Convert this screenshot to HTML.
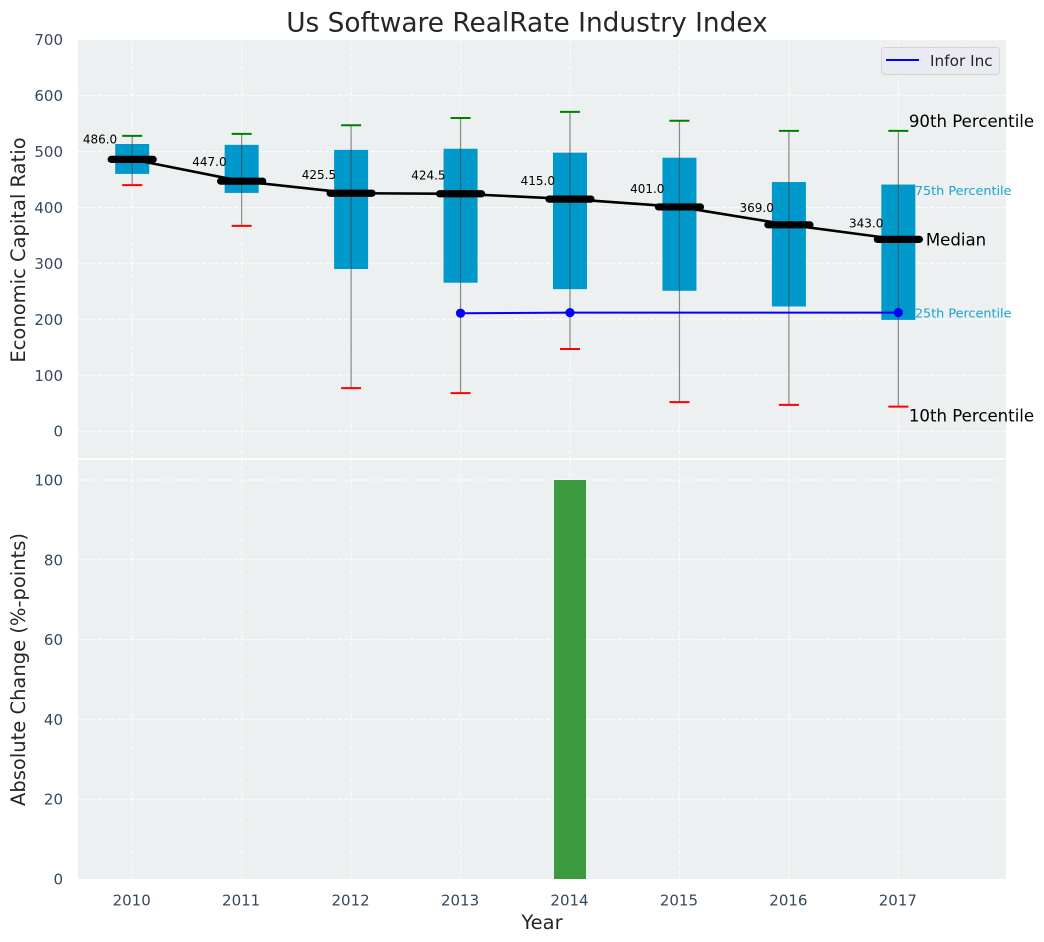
<!DOCTYPE html>
<html lang="en">
<head>
<meta charset="utf-8">
<title>Us Software RealRate Industry Index</title>
<style>
html,body{margin:0;padding:0;background:#fff;}
svg{display:block;font-family:"DejaVu Sans","Liberation Sans",sans-serif;}
</style>
</head>
<body>
<svg id="chart" width="1044" height="942" viewBox="0 0 1044 942" xmlns="http://www.w3.org/2000/svg">
  <rect x="78" y="40" width="928" height="418" fill="#ecf0f1"/>
  <rect x="78" y="459.7" width="928" height="419.3" fill="#ecf0f1"/>
  <g id="grid"></g>
  <g id="bars"></g>
  <g id="boxes"></g>
  <g id="medians"></g>
  <g id="company"></g>
  <g id="ticks" font-size="15" fill="#34495e"></g>
  <g id="values" font-size="12" fill="#000"></g>

  <text x="527" y="31.5" text-anchor="middle" font-size="26.4" fill="#262626">Us Software RealRate Industry Index</text>
  <text transform="translate(25,250) rotate(-90)" text-anchor="middle" font-size="19.5" fill="#262626">Economic Capital Ratio</text>
  <text transform="translate(25,669.5) rotate(-90)" text-anchor="middle" font-size="19.5" fill="#262626">Absolute Change (%-points)</text>
  <text x="542" y="929" text-anchor="middle" font-size="19.5" fill="#262626">Year</text>

  <text id="ann-p90" font-size="16.6" fill="#000">90th Percentile</text>
  <text id="ann-p75" font-size="12.8" fill="#1ba3d1">75th Percentile</text>
  <text id="ann-median" font-size="16.6" fill="#000">Median</text>
  <text id="ann-p25" font-size="12.8" fill="#1ba3d1">25th Percentile</text>
  <text id="ann-p10" font-size="16.6" fill="#000">10th Percentile</text>

  <g>
    <rect x="881.5" y="47.5" width="118" height="27" rx="3" fill="#eaeaf2" stroke="#d5d5d8" stroke-width="1"/>
    <line x1="886" y1="60" x2="919" y2="60" stroke="#0000ff" stroke-width="2"/>
    <text x="930" y="66" font-size="15.3" fill="#262626">Infor Inc</text>
  </g>
</svg>
<script>
const years = [2010, 2011, 2012, 2013, 2014, 2015, 2016, 2017];
const p90 = [528, 531.5, 547, 560, 571, 555, 537, 537];
const p75 = [513.5, 512, 503, 505, 498, 489, 445.5, 441];
const medianValues = [486, 447, 425.5, 424.5, 415, 401, 369, 343];
const p25 = [460, 426, 290, 265.5, 254, 251, 223, 199];
const p10 = [440, 367, 77, 68, 147, 52, 47, 44];
const inforInc = [null, null, null, 211, 212, null, null, 212];
const absoluteChange = [0, 0, 0, 0, 100, 0, 0, 0];
const upperTicks = [0, 100, 200, 300, 400, 500, 600, 700];
const lowerTicks = [0, 20, 40, 60, 80, 100];

const SVGNS = 'http://www.w3.org/2000/svg';
const xScale = function (year) { return 132.2 + (year - 2010) * 109.45; };
const yUpper = function (v) { return 431.2 - v * 0.5593; };
const yLower = function (v) { return 879 - v * 3.99; };

function make(parent, tag, attrs) {
  const el = document.createElementNS(SVGNS, tag);
  for (const k in attrs) { el.setAttribute(k, attrs[k]); }
  parent.appendChild(el);
  return el;
}
const gGrid = document.getElementById('grid');
const gBars = document.getElementById('bars');
const gBoxes = document.getElementById('boxes');
const gMedians = document.getElementById('medians');
const gCompany = document.getElementById('company');
const gTicks = document.getElementById('ticks');
const gValues = document.getElementById('values');
const gridStyle = { stroke: '#ffffff', 'stroke-opacity': 0.85, 'stroke-width': 1, 'stroke-dasharray': '4.5 2' };

upperTicks.forEach(function (t) {
  const y = yUpper(t);
  const line = make(gGrid, 'line', Object.assign({ x1: 78, x2: 1006, y1: y, y2: y }, gridStyle));
  
  
  const label = make(gTicks, 'text', { x: 63, y: y + 5.5, 'text-anchor': 'end' });
  
  
  label.textContent = t;
});
lowerTicks.forEach(function (t) {
  const y = yLower(t);
  if (t > 0) {
    const line = make(gGrid, 'line', Object.assign({ x1: 78, x2: 1006, y1: y, y2: y }, gridStyle));
    
    
  }
  const label = make(gTicks, 'text', { x: 63, y: y + 5.5, 'text-anchor': 'end' });
  
  
  label.textContent = t;
});

years.forEach(function (year, i) {
  const x = xScale(year);
  const gridTop = make(gGrid, 'line', Object.assign({ x1: x, x2: x, y1: 40, y2: 458 }, gridStyle));
  
  
  const gridBottom = make(gGrid, 'line', Object.assign({ x1: x, x2: x, y1: 459.7, y2: 879 }, gridStyle));
  
  

  const tick = make(gTicks, 'text', { x: x - 0.5, y: 905.5, 'text-anchor': 'middle' });
  
  
  tick.textContent = year;

  if (absoluteChange[i] > 0) {
    const bar = make(gBars, 'rect', {
      x: x - 16, width: 32,
      y: yLower(absoluteChange[i]),
      height: yLower(0) - yLower(absoluteChange[i]),
      fill: '#3c9b3e'
    });
    
    
  }

  const box = make(gBoxes, 'rect', {
    x: x - 17, width: 34,
    y: yUpper(p75[i]),
    height: yUpper(p25[i]) - yUpper(p75[i]),
    fill: '#0099cc'
  });
  
  

  const whisker = make(gBoxes, 'line', {
    x1: x, x2: x, y1: yUpper(p90[i]), y2: yUpper(p10[i]),
    stroke: '#404040', 'stroke-opacity': 0.6, 'stroke-width': 1.2
  });
  
  

  const capHigh = make(gBoxes, 'line', {
    x1: x - 10, x2: x + 10, y1: yUpper(p90[i]), y2: yUpper(p90[i]),
    stroke: '#008000', 'stroke-width': 2
  });
  
  

  const capLow = make(gBoxes, 'line', {
    x1: x - 10, x2: x + 10, y1: yUpper(p10[i]), y2: yUpper(p10[i]),
    stroke: '#ff0000', 'stroke-width': 2
  });
  
  
});

const medianPath = make(gMedians, 'polyline', {
  points: years.map(function (year, i) { return xScale(year) + ',' + yUpper(medianValues[i]); }).join(' '),
  fill: 'none', stroke: '#000', 'stroke-width': 2.6
});



years.forEach(function (year, i) {
  const x = xScale(year);
  const y = yUpper(medianValues[i]);
  const cap = make(gMedians, 'line', {
    x1: x - 21, x2: x + 21, y1: y, y2: y,
    stroke: '#000', 'stroke-width': 7.2, 'stroke-linecap': 'round'
  });
  
  

  const label = make(gValues, 'text', { x: x - 15, y: yUpper(medianValues[i] * 1.05) - 2.5, 'text-anchor': 'end' });
  
  
  label.textContent = medianValues[i].toFixed(1);
});

const companyPoints = [];
years.forEach(function (year, i) {
  if (inforInc[i] !== null) { companyPoints.push(xScale(year) + ',' + yUpper(inforInc[i])); }
});
const companyLine = make(gCompany, 'polyline', {
  points: companyPoints.join(' '), fill: 'none', stroke: '#0000ff', 'stroke-width': 2
});


years.forEach(function (year, i) {
  if (inforInc[i] === null) { return; }
  const dot = make(gCompany, 'circle', { cx: xScale(year), cy: yUpper(inforInc[i]), r: 4.6, fill: '#0000ff' });
  
  
});

const last = years.length - 1;
const lastX = xScale(years[last]);
function place(id, dx, y) {
  const t = document.getElementById(id);
  t.setAttribute('x', lastX + dx);
  t.setAttribute('y', y);
}
place('ann-p90', 10.5, yUpper(p90[last]) - 4);
place('ann-p75', 16.5, yUpper(p75[last]) + 10.5);
place('ann-median', 27.5, yUpper(medianValues[last]) + 6);
place('ann-p25', 16.5, yUpper(p25[last]) - 2.5);
place('ann-p10', 10.5, yUpper(p10[last]) + 15);
</script>
</body>
</html>
